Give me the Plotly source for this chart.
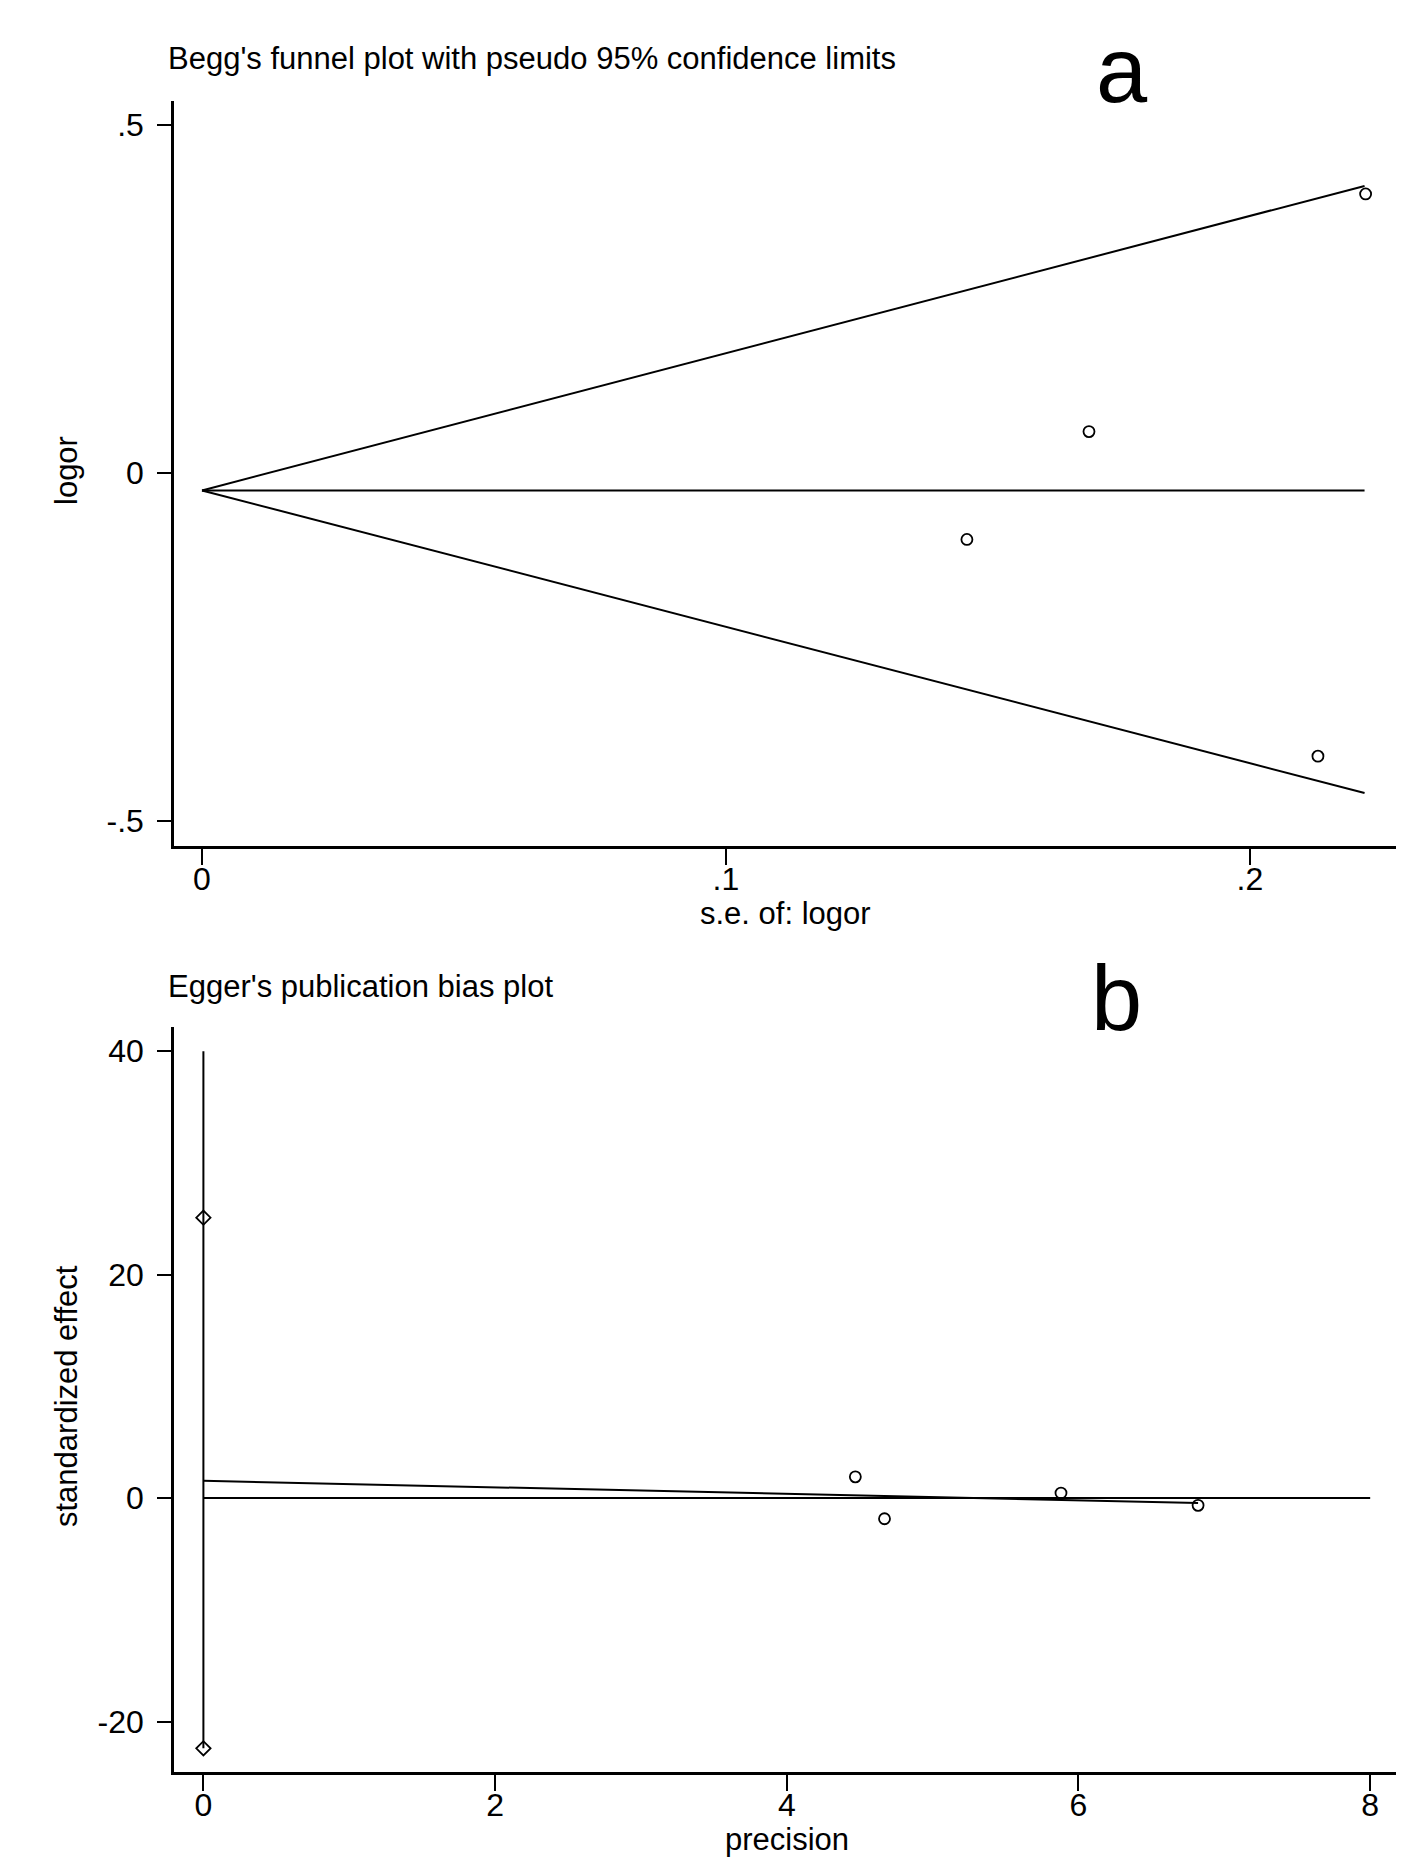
import plotly.graph_objects as go

# ---------------- data ----------------
# Panel a: Begg's funnel plot
se_logor = [0.2221, 0.1693, 0.1460, 0.2130]
logor = [0.401, 0.0595, -0.0954, -0.4068]
funnel_x = [0.0, 0.2219]
funnel_mid = [-0.025, -0.025]
funnel_upper = [-0.025, 0.4125]
funnel_lower = [-0.025, -0.4598]
a_xticks = [0, 0.1, 0.2]
a_xticktext = ["0", ".1", ".2"]
a_yticks = [-0.5, 0, 0.5]
a_yticktext = ["-.5", "0", ".5"]

# Panel b: Egger's publication bias plot
precision = [4.47, 4.67, 5.88, 6.82]
std_effect = [1.9, -1.85, 0.45, -0.65]
ci_x = [0.0, 0.0]
ci_y = [-22.4, 40.0]
ci_marker_x = [0.0, 0.0]
ci_marker_y = [25.1, -22.4]
reg_x = [0.0, 6.82]
reg_y = [1.55, -0.45]
zero_x = [0.0, 8.0]
zero_y = [0.0, 0.0]
b_xticks = [0, 2, 4, 6, 8]
b_xticktext = ["0", "2", "4", "6", "8"]
b_yticks = [-20, 0, 20, 40]
b_yticktext = ["-20", "0", "20", "40"]

# ---------------- layout helpers ----------------
W, H = 1417, 1871
def px_x(p):
    return p / W
def px_y(p):
    return 1 - p / H

FONT = "Liberation Sans, Arial, sans-serif"
BLACK = "#000000"

fig = go.Figure()

line_style = dict(color=BLACK, width=2)
marker_style = dict(symbol="circle-open", size=11, color=BLACK, line=dict(width=1.8, color=BLACK))

# Panel a traces
fig.add_trace(go.Scatter(x=funnel_x, y=funnel_upper, mode="lines", line=line_style, xaxis="x", yaxis="y"))
fig.add_trace(go.Scatter(x=funnel_x, y=funnel_mid, mode="lines", line=line_style, xaxis="x", yaxis="y"))
fig.add_trace(go.Scatter(x=funnel_x, y=funnel_lower, mode="lines", line=line_style, xaxis="x", yaxis="y"))
fig.add_trace(go.Scatter(x=se_logor, y=logor, mode="markers", marker=marker_style, xaxis="x", yaxis="y"))

# Panel b traces
fig.add_trace(go.Scatter(x=ci_x, y=ci_y, mode="lines", line=line_style, xaxis="x2", yaxis="y2"))
fig.add_trace(go.Scatter(x=zero_x, y=zero_y, mode="lines", line=line_style, xaxis="x2", yaxis="y2"))
fig.add_trace(go.Scatter(x=reg_x, y=reg_y, mode="lines", line=line_style, xaxis="x2", yaxis="y2"))
fig.add_trace(go.Scatter(x=ci_marker_x, y=ci_marker_y, mode="markers",
                         marker=dict(symbol="diamond-open", size=11, color=BLACK, line=dict(width=1.8, color=BLACK)),
                         xaxis="x2", yaxis="y2"))
fig.add_trace(go.Scatter(x=precision, y=std_effect, mode="markers", marker=marker_style, xaxis="x2", yaxis="y2"))

xdom = [px_x(166), px_x(1388)]
axis_common = dict(showgrid=False, zeroline=False, showline=True, linecolor=BLACK, linewidth=2.5,
                   ticks="outside", tickcolor=BLACK, tickwidth=2, mirror=False,
                   tickfont=dict(family=FONT, size=32, color=BLACK))

fig.update_layout(
    width=W, height=H,
    margin=dict(l=0, r=0, t=0, b=0),
    paper_bgcolor="white", plot_bgcolor="white",
    showlegend=False,
    xaxis=dict(domain=xdom, range=[-0.00534, 0.2279], anchor="y",
               tickvals=a_xticks, ticktext=a_xticktext, ticklen=16, ticklabelstandoff=-13, **axis_common),
    yaxis=dict(domain=[px_y(838), px_y(93)], range=[-0.5359, 0.5345], anchor="x",
               tickvals=a_yticks, ticktext=a_yticktext, ticklen=14, ticklabelstandoff=7, **axis_common),
    xaxis2=dict(domain=xdom, range=[-0.2016, 8.177], anchor="y2",
                tickvals=b_xticks, ticktext=b_xticktext, ticklen=16, ticklabelstandoff=-13, **axis_common),
    yaxis2=dict(domain=[px_y(1764), px_y(1019)], range=[-24.52, 42.17], anchor="x2",
                tickvals=b_yticks, ticktext=b_yticktext, ticklen=14, ticklabelstandoff=7, **axis_common),
)

def ann(text, x, y, size=31, xanchor="center", yanchor="middle", angle=0):
    fig.add_annotation(text=text, x=px_x(x), y=px_y(y), xref="paper", yref="paper",
                       xanchor=xanchor, yanchor=yanchor, textangle=angle, showarrow=False,
                       font=dict(family=FONT, size=size, color=BLACK))

ann("Begg's funnel plot with pseudo 95% confidence limits", 158, 50, xanchor="left")
ann("a", 1114, 62, size=92)
ann("logor", 58, 463, angle=-90)
ann("s.e. of: logor", 777, 905)

ann("Egger's publication bias plot", 158, 978, xanchor="left")
ann("b", 1108, 990, size=92)
ann("standardized effect", 58, 1388, angle=-90)
ann("precision", 779, 1831)

fig.write_html("out.html")
